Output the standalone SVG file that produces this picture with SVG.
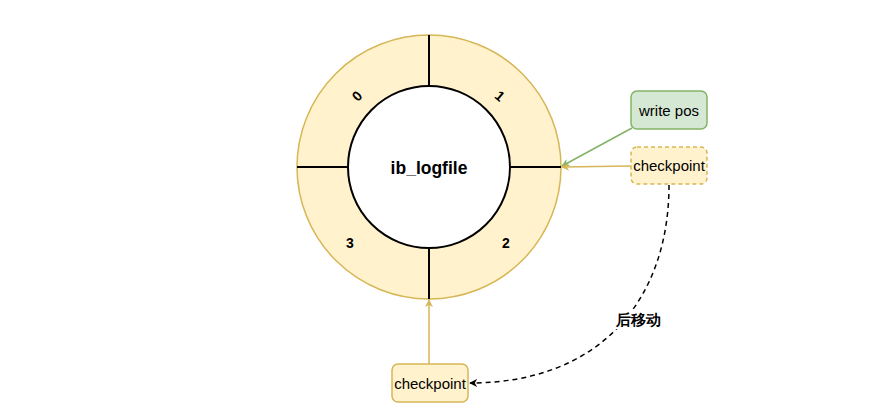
<svg xmlns="http://www.w3.org/2000/svg" width="883" height="416" viewBox="0 0 883 416">
<defs>
<style>
.t{font-family:"Liberation Sans",Arial,sans-serif;fill:#000}
.b{font-weight:bold}
.div{stroke:#000;stroke-width:2;fill:none}
</style>
<marker id="ay" viewBox="0 0 10 10" refX="9" refY="5" markerWidth="8" markerHeight="8" orient="auto" markerUnits="userSpaceOnUse"><path d="M0,0 L10,5 L0,10 L3,5 Z" fill="#d6b656"/></marker>
<marker id="ag" viewBox="0 0 10 10" refX="9" refY="5" markerWidth="8" markerHeight="8" orient="auto" markerUnits="userSpaceOnUse"><path d="M0,0 L10,5 L0,10 L3,5 Z" fill="#82b366"/></marker>
<marker id="ak" viewBox="0 0 10 10" refX="9" refY="5" markerWidth="8" markerHeight="8" orient="auto" markerUnits="userSpaceOnUse"><path d="M0,0 L10,5 L0,10 L3,5 Z" fill="#000"/></marker>
</defs>
<rect width="883" height="416" fill="#fff"/>
<g id="ring">
<circle cx="429" cy="167" r="132" fill="#fff2cc" stroke="#d6b656" stroke-width="1.5"/>
<line class="div" x1="297" y1="167" x2="348" y2="167"/>
<line class="div" x1="510" y1="167" x2="561" y2="167"/>
<line class="div" x1="429" y1="35" x2="429" y2="86"/>
<line class="div" x1="429" y1="248" x2="429" y2="299"/>
<circle cx="429" cy="167" r="81" fill="#fff" stroke="#000" stroke-width="2"/>
<text class="t b" x="429" y="174" font-size="17.5" text-anchor="middle">ib_logfile</text>
<text class="t b" font-size="14" text-anchor="middle" transform="translate(357,96) rotate(-45)" dy="5">0</text>
<text class="t b" font-size="14" text-anchor="middle" transform="translate(500,96) rotate(40)" dy="5">1</text>
<text class="t b" font-size="14" text-anchor="middle" x="506" y="248">2</text>
<text class="t b" font-size="14" text-anchor="middle" x="350" y="248">3</text>
</g>
<g id="writepos">
<rect x="631" y="91" width="76" height="38" rx="6" fill="#d5e8d4" stroke="#82b366" stroke-width="1.5"/>
<text class="t" x="669" y="115.5" font-size="15" text-anchor="middle">write pos</text>
</g>
<g id="checkpoint-right">
<rect x="631" y="147" width="76" height="37" rx="6" fill="#fff2cc" stroke="#d6b656" stroke-width="1.5" stroke-dasharray="4 3"/>
<text class="t" x="669" y="171" font-size="15" text-anchor="middle">checkpoint</text>
</g>
<g id="checkpoint-bottom">
<rect x="392" y="364" width="76" height="38" rx="6" fill="#fff2cc" stroke="#d6b656" stroke-width="1.5"/>
<text class="t" x="430" y="388.5" font-size="15" text-anchor="middle">checkpoint</text>
</g>
<g id="connectors">
<line x1="632" y1="128" x2="562" y2="166" stroke="#82b366" stroke-width="1.5" marker-end="url(#ag)"/>
<line x1="631" y1="166" x2="562" y2="167" stroke="#d6b656" stroke-width="1.5" marker-end="url(#ay)"/>
<line x1="429" y1="364" x2="429" y2="300" stroke="#d6b656" stroke-width="1.5" marker-end="url(#ay)"/>
<path d="M669,185 C669,300 600,383 470,383" fill="none" stroke="#000" stroke-width="1.5" stroke-dasharray="5 4" marker-end="url(#ak)"/>
<rect x="608" y="309" width="60" height="20" fill="#fff"/>
<text class="t b" x="638" y="324.5" font-size="15" text-anchor="middle" font-family="'Liberation Sans','Noto Sans CJK SC',sans-serif">后移动</text>
</g>
</svg>
